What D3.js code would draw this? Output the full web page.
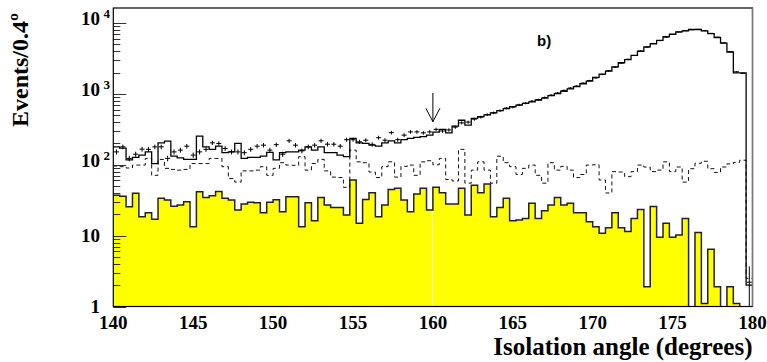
<!DOCTYPE html>
<html>
<head>
<meta charset="utf-8">
<script src="https://cdn.jsdelivr.net/npm/d3@7"></script>
<style>
  body { margin: 0; background: #fff; }
</style>
</head>
<body>
<div class="board"></div>
<script>
// histogram: 100 bins of 0.4 deg from 140 to 180
var binStart = 140, binWidth = 0.4;

// background (yellow filled)
var bkgVals = [37, 36, 25.6, 39.5, 18.5, 21, 17, 33.6, 31.8, 26,
  27, 30, 13.4, 41.6, 34.6, 36.5, 42, 33.6, 31.8, 23,
  28, 29.7, 29, 21, 29.5, 32, 21.7, 35.5, 35.5, 13.4,
  29, 16.2, 34.6, 27, 25, 25, 19.5, 60.9, 14.9, 32.4,
  40.3, 18.5, 27, 44.9, 46.5, 31.8, 21.7, 38.6, 46.5, 23,
  48, 40.3, 28, 28, 46.5, 19.5, 51.6, 40.3, 53.6, 18.5,
  25, 33.6, 16.2, 16.6, 17.5, 28.6, 17.5, 22.4, 27, 34.6,
  27, 28.6, 21, 21, 15.7, 13.4, 10.8, 12.9, 21, 12.9,
  11.4, 17.5, 23.4, 1.9, 25.7, 9.5, 14.9, 9.5, 10.2, 17.5,
  0, 11.1, 1.1, 6.4, 1.9, 0, 1.9, 1.1, 0, 0];

// total MC (solid line)
var mcVals = [179, 172, 117, 127, 137, 152, 104, 204, 216, 132,
  125, 119, 119, 254, 179, 165, 183, 148, 152, 200,
  123, 127, 127, 132, 150, 117, 148, 152, 152, 161,
  179, 161, 179, 148, 148, 137, 130, 235, 204, 200,
  189, 183, 204, 218, 204, 226, 235, 244, 249, 262,
  288, 316, 282, 350, 425, 362, 452, 478, 505, 540,
  580, 620, 660, 695, 735, 770, 820, 870, 945, 1010,
  1090, 1180, 1270, 1390, 1510, 1710, 1900, 2100, 2400, 2750,
  3050, 3500, 4000, 4600, 5100, 5700, 6400, 6950, 7500, 7750,
  8100, 8100, 7750, 7100, 6250, 5200, 3900, 1980, 1980, 2];

// dashed line
var dashVals = [96, 94, 90, 99, 99, 123, 71, 119, 89, 86,
  84, 86, 104, 104, 104, 123, 123, 94, 64, 57,
  82, 82, 84, 94, 71, 89, 107, 99, 98, 130,
  84, 104, 119, 82, 67, 66, 48, 161, 110, 107,
  79, 66, 94, 110, 67, 95, 99, 71, 110, 114,
  100, 123, 62, 59, 165, 55, 84, 110, 84, 55,
  132, 107, 94, 73, 89, 99, 71, 55, 107, 84,
  95, 84, 66, 73, 99, 100, 61, 40, 80, 79,
  68, 80, 99, 93, 80, 84, 110, 80, 93, 57,
  88, 105, 112, 88, 78, 93, 103, 108, 116, 2.5];

// data (crosses)
var dataVals = [152, 179, 123, 141, 166, 165, 179, 179, 123, 152,
  161, 183, 137, 152, 165, 204, 200, 170, 152, 152,
  148, 165, 183, 189, 161, 192, 141, 218, 189, 157,
  179, 189, 218, 195, 195, 183, 226, 226, 211, 222,
  194, 241, 222, 284, 226, 262, 291, 291, 282, 291,
  316, 300, 310, 340, 390, 400, 440, 470, 510, 540,
  580, 630, 650, 700, 740, 790, 830, 890, 960, 1030,
  1120, 1210, 1290, 1420, 1540, 1680, 1880, 2120, 2380, 2720,
  3080, 3480, 4020, 4560, 5150, 5650, 6350, 6900, 7450, 7800,
  8050, 8150, 7800, 7150, 6300, 5250, 3950, 2050, 1950, 2.2];

var xTicks = [140, 145, 150, 155, 160, 165, 170, 175, 180];
var yTicks = [1, 10, 100, 1000, 10000];
var yTickLabels = [["1", ""], ["10", ""], ["10", "2"], ["10", "3"], ["10", "4"]];

var W = 767, H = 362;
var fL = 113.3, fR = 752.5, fT = 8, fB = 306.5;

var svg = d3.select('.board')
  .append('svg')
  .attr('width', W)
  .attr('height', H)
  .style('background-color', 'white');

var x = d3.scaleLinear().domain([140, 180]).range([fL, fR]);
var y = d3.scaleLog().domain([1, 16300]).range([fB, fT]);

svg.append('clipPath').attr('id', 'frame')
  .append('rect')
  .attr('x', fL).attr('y', fT)
  .attr('width', fR - fL).attr('height', fB - fT);

var plot = svg.append('g').attr('clip-path', 'url(#frame)');

// turn bin values into step points
var toSteps = function(vals) {
  var pts = vals.map(function(v, i) {
    return { x: binStart + i * binWidth, v: v };
  });
  pts.push({ x: binStart + vals.length * binWidth, v: vals[vals.length - 1] });
  return pts;
};
var yc = function(v) { return v < 1 ? fB + 2 : y(v); };

var stepLine = d3.line()
  .curve(d3.curveStepAfter)
  .x(function(d) { return x(d.x); })
  .y(function(d) { return yc(d.v); });

var stepArea = d3.area()
  .curve(d3.curveStepAfter)
  .x(function(d) { return x(d.x); })
  .y0(fB + 2)
  .y1(function(d) { return yc(d.v); });

// yellow background
plot.append('path')
  .datum(toSteps(bkgVals))
  .attr('d', stepArea)
  .style('fill', '#ffff00');

// faint seam inside the fill at 160
plot.append('line')
  .attr('x1', x(160) - 0.5).attr('x2', x(160) - 0.5)
  .attr('y1', yc(bkgVals[50])).attr('y2', fB)
  .style('stroke', '#fffbc8')
  .style('stroke-width', 1);

plot.append('path')
  .datum(toSteps(bkgVals))
  .attr('d', stepLine)
  .style('fill', 'none')
  .style('stroke', '#222')
  .style('stroke-width', 1.5);

// dashed histogram
plot.append('path')
  .datum(toSteps(dashVals))
  .attr('d', stepLine)
  .style('fill', 'none')
  .style('stroke', '#111')
  .style('stroke-width', 1)
  .style('stroke-dasharray', '4,3');

// total MC
plot.append('path')
  .datum(toSteps(mcVals))
  .attr('d', stepLine)
  .style('fill', 'none')
  .style('stroke', '#000')
  .style('stroke-width', 1.3);

// data crosses with sqrt(N) errors
var pts = plot.selectAll('g.pt')
  .data(dataVals)
  .enter()
  .append('g')
  .attr('class', 'pt');

pts.append('line')
  .attr('x1', function(d, i) { return x(binStart + (i + 0.5) * binWidth) - 2.5; })
  .attr('x2', function(d, i) { return x(binStart + (i + 0.5) * binWidth) + 2.5; })
  .attr('y1', function(d) { return y(d); })
  .attr('y2', function(d) { return y(d); })
  .style('stroke', '#000')
  .style('stroke-width', 1);

pts.append('line')
  .attr('x1', function(d, i) { return x(binStart + (i + 0.5) * binWidth); })
  .attr('x2', function(d, i) { return x(binStart + (i + 0.5) * binWidth); })
  .attr('y1', function(d) { return y(d + Math.sqrt(d)); })
  .attr('y2', function(d) { return yc(d - Math.sqrt(d)); })
  .style('stroke', '#000')
  .style('stroke-width', 1);

// y ticks (inside the frame)
var minor = [];
yTicks.forEach(function(t) {
  for (var k = 2; k <= 9; k++) {
    if (t * k < 16300) minor.push(t * k);
  }
});
svg.selectAll('line.ymin')
  .data(minor)
  .enter()
  .append('line')
  .attr('x1', fL).attr('x2', fL + 7)
  .attr('y1', function(d) { return Math.round(y(d)) + 0.5; })
  .attr('y2', function(d) { return Math.round(y(d)) + 0.5; })
  .style('stroke', '#333');

svg.selectAll('line.ymaj')
  .data(yTicks)
  .enter()
  .append('line')
  .attr('x1', fL).attr('x2', fL + 13)
  .attr('y1', function(d) { return Math.round(y(d)) + 0.5; })
  .attr('y2', function(d) { return Math.round(y(d)) + 0.5; })
  .style('stroke', '#333');

// frame
svg.append('rect')
  .attr('x', fL).attr('y', fT)
  .attr('width', fR - fL).attr('height', fB - fT)
  .style('fill', 'none')
  .style('stroke', '#000')
  .style('stroke-width', 1.2);
svg.append('line')
  .attr('x1', fR).attr('x2', fR)
  .attr('y1', fT).attr('y2', fB)
  .style('stroke', '#777')
  .style('stroke-width', 1.4);

// arrow at 160
var ax = x(160);
svg.append('path')
  .attr('d', 'M' + ax + ',' + y(1030) + 'L' + ax + ',' + y(405) +
    'M' + (ax - 7) + ',' + y(626) + 'L' + ax + ',' + y(405) + 'L' + (ax + 7) + ',' + y(626))
  .style('fill', 'none')
  .style('stroke', '#000')
  .style('stroke-width', 1);

// tick labels
var serif = '"Liberation Serif", "Times New Roman", serif';
svg.selectAll('text.xl')
  .data(xTicks)
  .enter()
  .append('text')
  .attr('x', function(d) { return x(d); })
  .attr('y', 329)
  .attr('text-anchor', 'middle')
  .style('font-family', serif)
  .style('font-weight', 'bold')
  .style('font-size', '19px')
  .text(function(d) { return d; });

svg.selectAll('text.yl')
  .data(yTicks)
  .enter()
  .append('text')
  .attr('x', 100)
  .attr('y', function(d, i) { return y(d) + (yTickLabels[i][1] ? 2 : 6); })
  .attr('text-anchor', 'end')
  .style('font-family', serif)
  .style('font-weight', 'bold')
  .style('font-size', '19px')
  .text(function(d, i) { return yTickLabels[i][0]; });

svg.selectAll('text.ye')
  .data(yTicks.filter(function(d, i) { return yTickLabels[i][1]; }))
  .enter()
  .append('text')
  .attr('x', 103.5)
  .attr('y', function(d) { return y(d) - 5; })
  .style('font-family', serif)
  .style('font-weight', 'bold')
  .style('font-size', '13px')
  .text(function(d) { return yTickLabels[yTicks.indexOf(d)][1]; });

// axis titles
svg.append('text')
  .attr('x', fR)
  .attr('y', 355)
  .attr('text-anchor', 'end')
  .style('font-family', serif)
  .style('font-weight', 'bold')
  .style('font-size', '25px')
  .text('Isolation angle (degrees)');

svg.append('text')
  .attr('transform', 'translate(28,70) rotate(-90)')
  .attr('text-anchor', 'middle')
  .style('font-family', serif)
  .style('font-weight', 'bold')
  .style('font-size', '24px')
  .text('Events/0.4º');

svg.append('text')
  .attr('x', 537)
  .attr('y', 46)
  .style('font-family', '"Liberation Sans", Arial, sans-serif')
  .style('font-weight', 'bold')
  .style('font-size', '15px')
  .text('b)');
</script>
</body>
</html>
